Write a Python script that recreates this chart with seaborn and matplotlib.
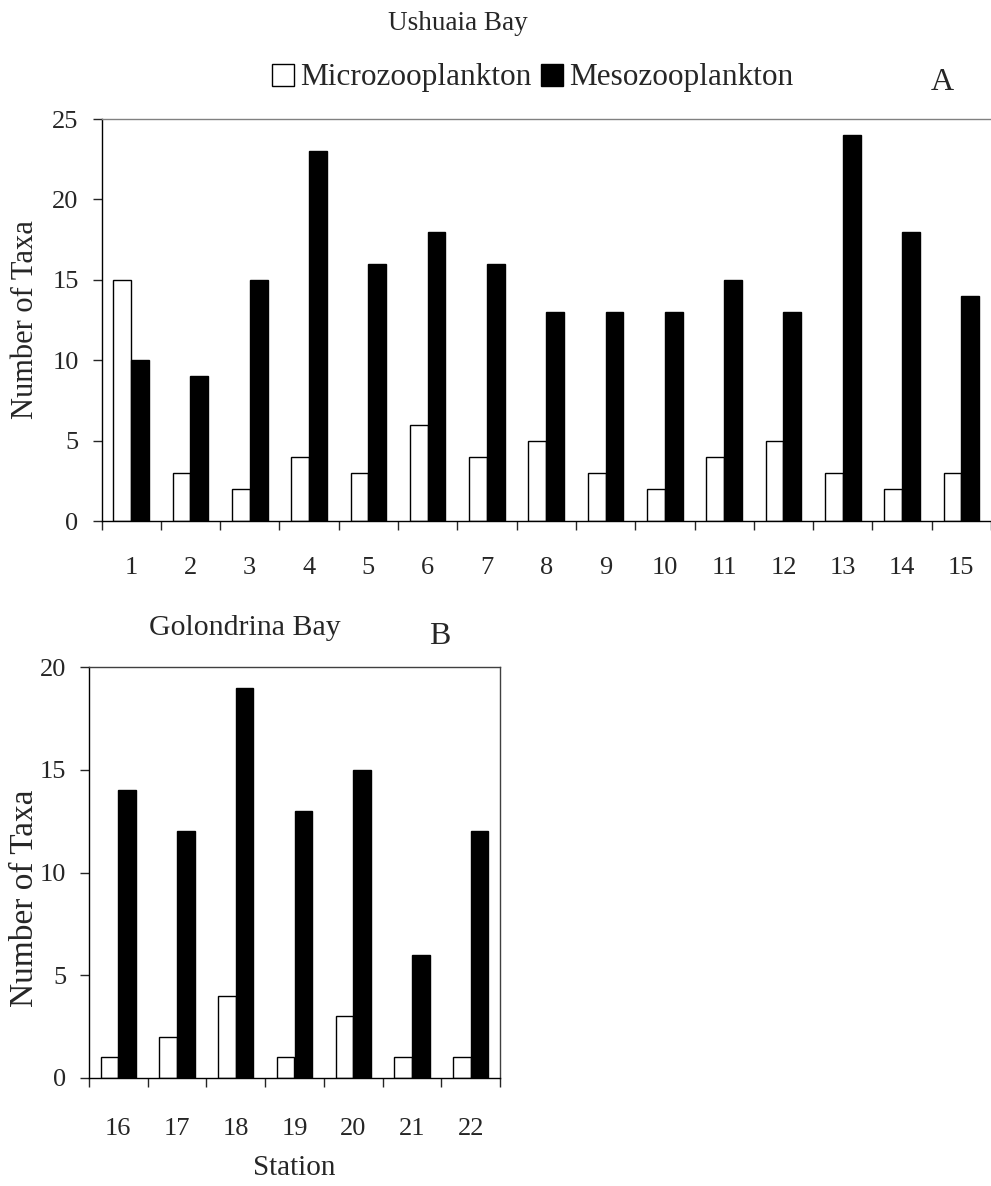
import numpy as np
import pandas as pd
import matplotlib
matplotlib.use("Agg")
import matplotlib.pyplot as plt
import seaborn as sns

sns.set_style("ticks")
plt.rcParams['font.family'] = ['Liberation Serif', 'DejaVu Serif']

# Ushuaia Bay (panel A)
stations_a = [str(s) for s in range(1, 16)]
micro_a = [15, 3, 2, 4, 3, 6, 4, 5, 3, 2, 4, 5, 3, 2, 3]
meso_a = [10, 9, 15, 23, 16, 18, 16, 13, 13, 13, 15, 13, 24, 18, 14]

# Golondrina Bay (panel B)
stations_b = [str(s) for s in range(16, 23)]
micro_b = [1, 2, 4, 1, 3, 1, 1]
meso_b = [14, 12, 19, 13, 15, 6, 12]

groups = ["Microzooplankton", "Mesozooplankton"]
colors = {"Microzooplankton": "white", "Mesozooplankton": "black"}


def long_df(stations, micro, meso):
    df = pd.DataFrame({"Station": stations, groups[0]: micro, groups[1]: meso})
    return df.melt(id_vars="Station", var_name="group", value_name="taxa")


def draw(ax, stations, micro, meso, ymax, xpad):
    sns.barplot(data=long_df(stations, micro, meso), x="Station", y="taxa",
                hue="group", hue_order=groups, palette=colors,
                edgecolor="black", linewidth=1, width=0.6, ax=ax)
    n = len(stations)
    ax.set_xlim(-0.5, n - 0.5)
    ax.set_ylim(0, ymax)
    ax.set_yticks(np.arange(0, ymax + 1, 5))
    ax.set_xticks(np.arange(-0.5, n, 1), minor=True)
    ax.tick_params(axis="x", which="major", length=0, pad=xpad, labelsize=19)
    ax.tick_params(axis="x", which="minor", length=6.5, width=1, direction="out")
    ax.tick_params(axis="y", length=6.5, width=1, direction="out", pad=10, labelsize=19)
    ax.yaxis.label.set_verticalalignment("center")
    for s in ax.spines.values():
        s.set_linewidth(1)
        s.set_color("black")


W, H = 991, 1186
fig = plt.figure(figsize=(W / 100, H / 100), dpi=100)
ax_a = fig.add_axes([101.5 / W, 1 - 521 / H, 889.5 / W, 402 / H])
ax_b = fig.add_axes([89 / W, 1 - 1078 / H, 411 / W, 411 / H])

draw(ax_a, stations_a, micro_a, meso_a, 25, 26)
draw(ax_b, stations_b, micro_b, meso_b, 20, 29)

# panel A frame: grey top line, no right line
ax_a.spines["top"].set_color("#808080")
ax_a.spines["right"].set_visible(False)
ax_a.set_xlabel("")
ax_a.set_ylabel("Number of Taxa", fontsize=22, va="center")
ax_a.yaxis.set_label_coords((26 - 101.5) / 889.5, 0.5)

ax_b.spines["top"].set_color("#404040")
ax_b.spines["right"].set_color("#404040")
ax_b.set_xlabel("Station", fontsize=21, va="center")
ax_b.xaxis.set_label_coords(0.5, (1078 - 1168) / 411)
ax_b.set_ylabel("Number of Taxa", fontsize=24, va="center")
ax_b.yaxis.set_label_coords((25 - 89) / 411, (1078 - 898) / 411)
ax_b.get_legend().remove()

handles, labels = ax_a.get_legend_handles_labels()
ax_a.get_legend().remove()
fig.legend(handles, labels, loc="center", bbox_to_anchor=(533 / W, 1 - 78 / H),
           ncol=2, frameon=False, fontsize=22.5, handlelength=0.7,
           handleheight=0.7, handletextpad=0.2, columnspacing=0.3)

fig.text(458 / W, 1 - 23 / H, "Ushuaia Bay", ha="center", va="center", fontsize=19.5)
fig.text(942 / W, 1 - 82 / H, "A", ha="center", va="center", fontsize=23)
fig.text(245 / W, 1 - 628 / H, "Golondrina Bay", ha="center", va="center", fontsize=21.5)
fig.text(440 / W, 1 - 636 / H, "B", ha="center", va="center", fontsize=23)

fig.savefig("out.png", dpi=100)
